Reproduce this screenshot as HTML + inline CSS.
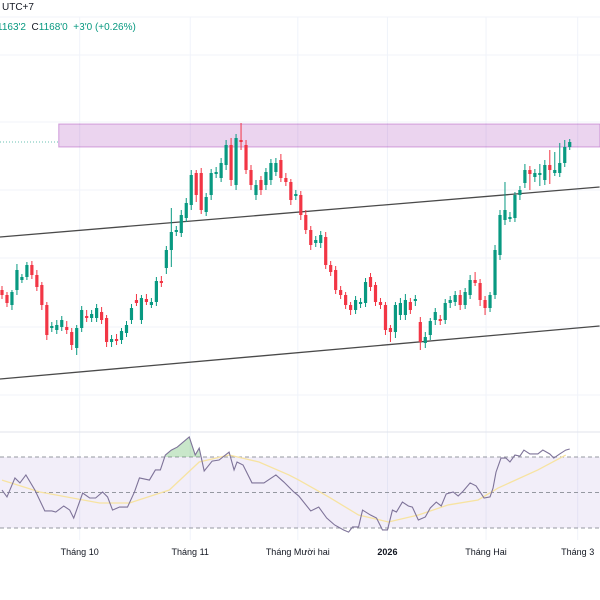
<!DOCTYPE html>
<html><head><meta charset="utf-8">
<style>
html,body{margin:0;padding:0;background:#fff;width:600px;height:600px;overflow:hidden;font-family:"Liberation Sans","Noto Sans CJK SC",sans-serif;}
#wrap{position:relative;width:600px;height:600px;}
.hdr{position:absolute;font-size:10px;white-space:nowrap;}
</style></head>
<body>
<div id="wrap">
<div class="hdr" style="left:2px;top:2px;color:#131722;">UTC+7</div>
<div class="hdr" style="left:-3px;top:22px;color:#089981;">1163'2 &nbsp;<span style="color:#131722">C</span>1168'0 &nbsp;+3'0 (+0.26%)</div>
<svg id="svg" width="600" height="600" style="position:absolute;left:0;top:0"></svg>
</div>
<script>
const opens=[1020,1015,1005,1020,1030,1033,1045,1035,1025,1005,982,980,983,983,978,962,982,994,992,992,998,992,968,971,970,977,990,1010,990,1011,1005,1008,1029,1042,1060,1078,1077,1092,1105,1137,1137,1098,1115,1136,1132,1145,1165,1125,1170,1165,1140,1115,1130,1125,1130,1138,1150,1132,1128,1114,1115,1095,1080,1067,1067,1073,1045,1040,1020,1015,1005,1000,1006,1007,1033,1025,1008,1005,982,978,995,995,1008,1009,988,967,975,990,991,990,1007,1008,1015,1005,1015,1030,1027,1010,1002,1015,1055,1090,1091,1092,1115,1127,1140,1133,1135,1130,1145,1137,1137,1147,1163];
const closes=[1015,1007,1018,1040,1033,1045,1035,1023,1005,975,984,985,990,980,965,982,1000,992,996,1002,990,968,971,969,979,985,1002,1007,1012,1008,1008,1029,1027,1060,1078,1080,1095,1107,1135,1115,1100,1113,1137,1138,1147,1165,1130,1172,1168,1140,1125,1125,1120,1138,1147,1147,1132,1128,1110,1116,1095,1080,1065,1070,1075,1045,1038,1020,1015,1005,1000,1010,1008,1028,1023,1008,1005,980,978,1005,1007,1010,1000,1011,968,973,989,998,989,1007,1010,1015,1005,1018,1030,1027,1010,1002,1015,1060,1095,1100,1093,1115,1120,1140,1136,1137,1137,1145,1140,1140,1147,1163,1168];
const highs=[1024,1018,1020,1046,1036,1048,1049,1040,1028,1008,988,990,994,989,982,985,1004,1000,1000,1006,1003,995,975,976,982,989,1006,1016,1015,1016,1012,1033,1034,1064,1102,1084,1100,1112,1140,1140,1142,1117,1141,1143,1152,1170,1172,1176,1187,1170,1145,1130,1134,1142,1151,1152,1156,1137,1131,1120,1119,1100,1084,1074,1079,1078,1049,1044,1024,1018,1008,1014,1012,1032,1037,1028,1012,1008,985,1008,1012,1016,1012,1015,993,978,992,1002,995,1011,1014,1019,1020,1022,1035,1038,1031,1014,1018,1065,1100,1128,1098,1118,1124,1146,1144,1141,1146,1150,1160,1158,1167,1170,1171];
const lows=[1011,1003,1000,1015,1027,1030,1031,1019,1000,970,978,976,979,976,960,955,978,988,988,988,986,963,963,965,966,973,986,1004,986,1005,1002,1004,1023,1036,1043,1074,1073,1088,1100,1108,1096,1094,1110,1132,1128,1140,1124,1120,1160,1136,1120,1110,1115,1120,1125,1134,1128,1124,1105,1110,1090,1076,1060,1063,1062,1041,1034,1016,1011,1001,995,996,1002,1003,1019,1004,1001,975,968,972,990,990,996,1004,960,962,970,985,985,986,1002,1004,1000,1001,1011,1024,1004,995,998,1011,1050,1085,1088,1088,1110,1122,1120,1128,1124,1125,1126,1134,1133,1143,1160];
const rsiIdx=[0,1,2.6,3.6,4.8,6.6,8.6,10,10.8,12.4,13.6,14.4,16.2,17.6,18.8,20.2,21.2,22.2,23.6,25.2,26.6,27.6,29.6,30.8,31.8,32.8,34,35.2,37.6,38.8,39.6,40.6,42.2,43.6,45.6,46.6,47.2,48.4,50.2,52.6,55,56.6,57.6,58.6,59.6,62,63.6,65.2,66.8,68.6,69.6,70.4,71.6,72.4,74,75.2,76.4,77.4,78.4,79.2,80.4,81.6,82.4,83.6,85,86,87.2,88.2,89.2,90.6,91.6,92.6,94,95.2,96.8,98,98.6,99.2,100.2,101.2,102,103,104,104.8,106,107.6,108.6,110,110.8,112,113.2,114];
const rsiVal=[51.4,47.5,58.2,55.4,59.9,51.4,39.6,39.6,39.0,42.4,40.1,35.6,49.7,46.9,46.9,50.3,47.5,40.1,41.8,41.8,50.3,58.2,57.0,62.7,62.7,71.1,73.9,75.6,81.3,71.1,75.0,62.1,67.7,68.3,72.8,62.7,67.2,65.5,55.4,55.4,59.9,55.9,53.1,50.3,48.0,39.6,41.8,35.6,31.7,28.9,27.7,30.6,30.6,40.1,37.3,35.6,28.9,28.9,40.1,39.0,44.6,42.4,41.8,34.5,36.2,41.3,44.6,42.4,49.2,50.3,48.0,50.8,55.4,53.7,46.9,47.5,52.5,61.5,69.4,69.4,67.2,71.1,70.5,73.9,71.7,71.7,73.9,71.7,69.4,71.7,73.9,74.5];
const maIdx=[0,7.6,19.6,25.6,33.6,39.6,45.6,51.6,57.6,59.6,65.6,71.6,77.6,83.6,89.6,95.6,99.6,107.6,113.2];
const maVal=[57.0,50.3,44.1,44.1,51.4,67.2,71.1,67.2,59.9,57.0,47.5,37.3,33.4,37.3,43.0,45.8,52.5,62.7,71.1];
const upperChannel=[1073,1123];
const lowerChannel=[931,984];
const channelIdx=[-0.4,120];
const zoneTop=1186, zoneBottom=1163, zoneStartIdx=11.4;
const rsiLevels=[70,50,30];
const timeLabels=["Tháng 10","Tháng 11","Tháng Mười hai","2026","Tháng Hai","Tháng 3"];
const timeIdx=[15.6,37.8,59.4,77.4,97.2,115.6];

const X=i=>2+4.98*i;
const Y=p=>1310-p;
const RY=v=>457+(70-v)*1.775;
const NS="http://www.w3.org/2000/svg";
const svg=document.getElementById('svg');
function mk(tag,attrs,parent){const e=document.createElementNS(NS,tag);for(const k in attrs)e.setAttribute(k,attrs[k]);(parent||svg).appendChild(e);return e;}

const grid=mk('g',{});


[55,122,190,258,327,395].forEach(y=>mk('line',{x1:0,x2:600,y1:y,y2:y,stroke:'#f0f3fa','stroke-width':1},grid));
timeIdx.forEach(i=>mk('line',{x1:X(i),x2:X(i),y1:17,y2:540,stroke:'#f0f3fa','stroke-width':1},grid));
mk('line',{x1:0,x2:600,y1:17,y2:17,stroke:'#f0f3fa'},grid);
mk('line',{x1:0,x2:600,y1:432,y2:432,stroke:'#e0e3eb'},grid);

const zone=mk('rect',{x:X(zoneStartIdx),y:Y(zoneTop),width:600-X(zoneStartIdx),height:Y(zoneBottom)-Y(zoneTop),fill:'rgba(156,39,176,0.2)',stroke:'rgba(156,39,176,0.4)','stroke-width':1});


const pl=mk('line',{x1:0,x2:X(zoneStartIdx),y1:Y(closes[closes.length-1]),y2:Y(closes[closes.length-1]),stroke:'#089981','stroke-width':1,'stroke-dasharray':'1 2',opacity:0.6});



const up=mk('line',{x1:X(channelIdx[0]),x2:X(channelIdx[1]),y1:Y(upperChannel[0]),y2:Y(upperChannel[1]),stroke:'#4a4a4a','stroke-width':1.3});


const lo=mk('line',{x1:X(channelIdx[0]),x2:X(channelIdx[1]),y1:Y(lowerChannel[0]),y2:Y(lowerChannel[1]),stroke:'#4a4a4a','stroke-width':1.3});



const cg=mk('g',{});


opens.forEach((o,i)=>{
  const c=closes[i],col=c>=o?'#089981':'#f23645',x=X(i);
  const g=mk('g',{},cg);
  
  
  mk('line',{x1:x,x2:x,y1:Y(highs[i]),y2:Y(lows[i]),stroke:col,'stroke-width':1},g);
  const t=Y(Math.max(o,c)),b=Y(Math.min(o,c));
  mk('rect',{x:x-1.6,y:t,width:3.2,height:Math.max(1,b-t),fill:col},g);
});

const rg=mk('g',{});


mk('rect',{x:0,y:RY(70),width:600,height:RY(30)-RY(70),fill:'rgba(126,87,194,0.1)'},rg);
rsiLevels.forEach(v=>mk('line',{x1:0,x2:600,y1:RY(v),y2:RY(v),stroke:'#9598a1','stroke-width':1,'stroke-dasharray':'4 3'},rg));
const defs=mk('defs',{});
const cp=mk('clipPath',{id:'ob'},defs);
mk('rect',{x:0,y:0,width:X(44),height:RY(70)},cp);
let pts=rsiIdx.map((i,k)=>X(i)+','+RY(rsiVal[k])).join(' ');
const fill=mk('polygon',{points:X(rsiIdx[0])+','+RY(70)+' '+pts+' '+X(rsiIdx[rsiIdx.length-1])+','+RY(70),fill:'rgba(76,175,80,0.3)','clip-path':'url(#ob)'},rg);


const ma=mk('polyline',{points:maIdx.map((i,k)=>X(i)+','+RY(maVal[k])).join(' '),fill:'none',stroke:'#f7e3a1','stroke-width':1.3},rg);


const rl=mk('polyline',{points:pts,fill:'none',stroke:'#7e7399','stroke-width':1.1},rg);



timeLabels.forEach((t,k)=>{
  const tx=mk('text',{x:X(timeIdx[k]),y:555,'text-anchor':'middle','font-size':'9px','font-family':'"Liberation Sans",sans-serif',fill:'#131722','font-weight':t==='2026'?'bold':'normal'});
  tx.textContent=t;
  
  
});
</script>
</body></html>
